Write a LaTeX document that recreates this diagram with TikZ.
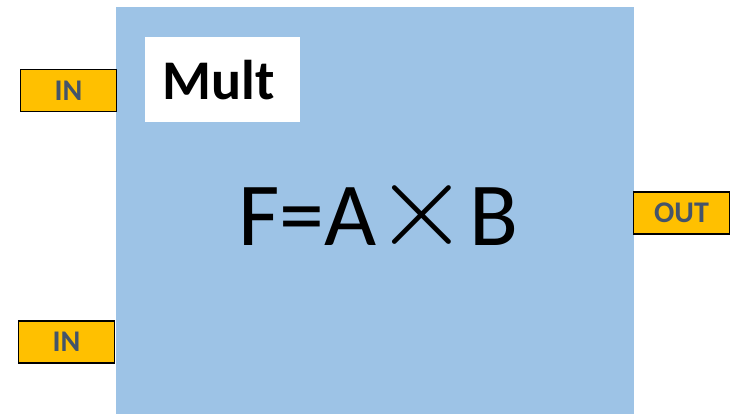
\documentclass[tikz,border=0pt]{standalone}
\usepackage{fontspec}
\usepackage{graphicx}
\setmainfont{Carlito}
\definecolor{blockblue}{HTML}{9DC3E6}
\definecolor{portorange}{HTML}{FFC000}
\definecolor{portgray}{HTML}{44546A}
\tikzset{
  port/.style={draw=black, line width=1.6pt, fill=portorange, text=portgray,
    minimum width=96pt, minimum height=42pt, inner sep=0pt,
    font=\fontsize{30}{34}\selectfont\bfseries},
}
\begin{document}
\begin{tikzpicture}[x=1pt, y=-1pt]
    \useasboundingbox (0,0) rectangle (740,414);
    % Main block
    \node[fill=blockblue, minimum width=518pt, minimum height=407pt, inner sep=0pt,
      anchor=north west] (mult) at (116,7) {};
    \node[fill=white, minimum width=155pt, minimum height=85pt, inner sep=0pt,
      anchor=north west, font=\fontsize{56}{60}\selectfont\bfseries] (name) at (145,37) {\hspace{-8pt}Mult};
    \node[font=\fontsize{90}{100}\selectfont, anchor=base west, inner sep=0pt] (func) at (238,246)
      {F=A\hspace{-2pt}\scalebox{4.9}{$\times$}\hspace{0pt}B};
    
    % Ports
    \node[port] (in1) at (68.5,90.5) {IN};
    \node[port] (in2) at (66.5,342) {IN};
    \node[port] (out) at (681.5,213) {OUT};
\end{tikzpicture}
\end{document}
